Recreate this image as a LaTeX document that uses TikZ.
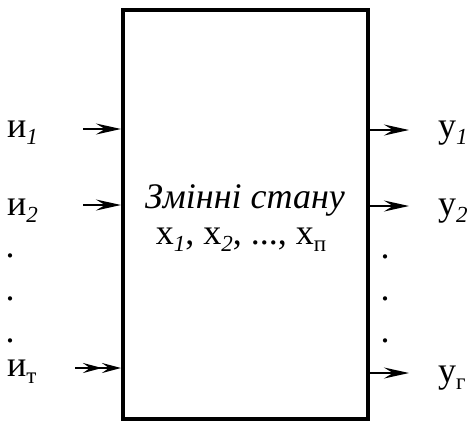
\documentclass[tikz,border=0pt]{standalone}
\usepackage{fontspec}
\setmainfont{Liberation Serif}
\usetikzlibrary{arrows.meta}
\newcommand\mysub[1]{\raisebox{-0.2em}{\fontsize{23bp}{23bp}\selectfont #1}}
\begin{document}
\begin{tikzpicture}[x=1bp,y=-1bp,
  lbl/.style={anchor=base west,inner sep=0pt,font=\fontsize{36bp}{40bp}\selectfont},
  dotl/.style={anchor=base,inner sep=0pt,font=\fontsize{36bp}{40bp}\selectfont},
  arr/.style={line width=2.5bp,-{Stealth[length=25bp,width=11bp,inset=9bp]}},
  arrr/.style={line width=2.5bp,-{Stealth[length=19bp,width=10bp,inset=7bp]Stealth[length=19bp,width=10bp,inset=7bp]}}]
\useasboundingbox (0,0) rectangle (474,422);
\node[draw,line width=4bp,minimum width=245bp,minimum height=409bp,inner sep=0pt] (box) at (245.5,214.5) {};
\node[inner sep=0pt,anchor=base,font=\fontsize{36bp}{40bp}\selectfont\itshape] (t1) at (245,208) {Змінні стану};
\node[inner sep=0pt,anchor=base,font=\fontsize{36bp}{40bp}\selectfont] (t2) at (241,244) {х\mysub{\itshape 1}, х\mysub{\itshape 2}, ..., х\mysub{п}};
% left labels
\node[lbl] (u1) at (7,137) {и\mysub{\itshape 1}};
\node[lbl] (u2) at (7,215) {и\mysub{\itshape 2}};
\node[lbl] (um) at (7,376) {и\mysub{т}};
\node[dotl] (ld1) at (10,257) {.};
\node[dotl] (ld2) at (10,300) {.};
\node[dotl] (ld3) at (10,342) {.};
% right labels
\node[lbl] (y1) at (438,137) {у\mysub{\itshape 1}};
\node[lbl] (y2) at (438,215) {у\mysub{\itshape 2}};
\node[lbl] (yr) at (438,382) {у\mysub{г}};
\node[dotl] (rd1) at (385,258) {.};
\node[dotl] (rd2) at (385,300) {.};
\node[dotl] (rd3) at (385,342) {.};
% arrow start/end coordinates
\coordinate (a1) at (83,129);
\coordinate (a2) at (83,205);
\coordinate (am) at (75,368);
\coordinate (b1) at (409,130);
\coordinate (b2) at (409,206);
\coordinate (br) at (409,373);
\draw[arr] (a1) -- (a1 -| box.west);
\draw[arr] (a2) -- (a2 -| box.west);
\draw[arrr] (am) -- (am -| box.west);
\draw[arr] (b1 -| box.east) -- (b1);
\draw[arr] (b2 -| box.east) -- (b2);
\draw[arr] (br -| box.east) -- (br);
\end{tikzpicture}
\end{document}
